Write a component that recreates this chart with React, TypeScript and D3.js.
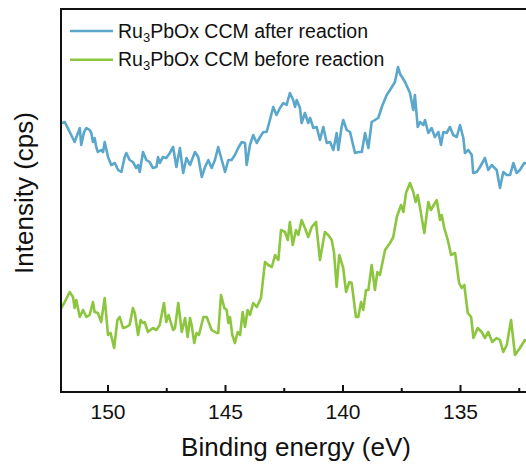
import React from "react";
import * as d3 from "d3";

// Binding energy (eV) and intensity (arbitrary cps units)
const afterEnergy = [151.96,151.84,151.63,151.42,151.28,151.2,151.14,151.02,150.92,150.78,150.71,150.64,150.57,150.5,150.43,150.29,150.21,150.14,150.0,149.86,149.71,149.57,149.43,149.29,149.22,149.08,148.94,148.8,148.72,148.65,148.51,148.37,148.23,148.09,147.94,147.87,147.8,147.66,147.52,147.37,147.23,147.09,146.94,146.8,146.66,146.51,146.3,146.16,146.01,145.87,145.73,145.59,145.45,145.31,145.16,145.02,144.88,144.74,144.6,144.46,144.31,144.17,144.1,143.96,143.82,143.67,143.53,143.39,143.25,143.11,142.97,142.83,142.68,142.54,142.4,142.26,142.12,142.04,141.97,141.83,141.76,141.62,141.48,141.4,141.26,141.12,140.98,140.84,140.69,140.55,140.41,140.27,140.2,140.06,139.99,139.84,139.7,139.49,139.35,139.2,139.06,138.92,138.78,138.64,138.5,138.35,138.14,138.0,137.79,137.66,137.57,137.36,137.15,137.01,136.94,136.82,136.72,136.58,136.51,136.37,136.23,136.09,135.94,135.83,135.73,135.59,135.45,135.31,135.16,135.02,134.88,134.81,134.67,134.52,134.46,134.31,134.17,133.96,133.82,133.67,133.46,133.32,133.18,133.03,132.89,132.75,132.61,132.47,132.29,132.0];
const afterIntensity = [269,270,260,250,259,264,247,260,264,262,259,250,254,245,240,242,240,250,235,227,229,222,220,235,239,232,230,224,227,220,240,232,230,224,225,235,229,235,234,239,245,225,244,219,234,227,240,235,215,225,232,224,232,245,232,220,232,232,237,244,250,249,227,247,257,249,255,260,260,272,285,277,284,289,287,299,292,285,292,284,269,279,269,274,264,265,252,265,249,250,242,259,242,265,272,262,260,239,240,240,259,244,270,272,274,285,297,302,310,325,318,310,299,282,297,265,270,267,272,259,264,255,260,247,260,259,265,257,255,267,254,239,242,237,219,220,225,234,222,227,222,204,220,217,217,229,219,222,229,228];

const beforeEnergy = [151.99,151.84,151.63,151.49,151.42,151.35,151.2,151.06,150.92,150.78,150.64,150.57,150.43,150.29,150.14,150.0,149.89,149.74,149.6,149.5,149.36,149.22,149.08,148.94,148.86,148.72,148.61,148.51,148.44,148.3,148.09,147.94,147.8,147.62,147.52,147.42,147.23,147.15,147.01,146.86,146.72,146.61,146.51,146.44,146.33,146.23,146.13,145.94,145.8,145.59,145.37,145.31,145.19,145.05,144.95,144.88,144.81,144.71,144.6,144.48,144.38,144.27,144.17,144.06,143.96,143.82,143.67,143.49,143.32,143.18,143.03,142.89,142.75,142.64,142.47,142.35,142.26,142.14,142.0,141.9,141.76,141.62,141.48,141.33,141.15,140.98,140.77,140.63,140.48,140.38,140.27,140.16,139.99,139.87,139.73,139.63,139.45,139.35,139.23,139.14,139.02,138.92,138.78,138.64,138.54,138.43,138.21,138.0,137.86,137.71,137.53,137.43,137.32,137.15,137.01,136.91,136.82,136.72,136.54,136.37,136.26,136.01,135.87,135.8,135.69,135.54,135.4,135.23,135.06,134.95,134.84,134.69,134.55,134.45,134.27,134.1,133.96,133.82,133.65,133.46,133.32,133.18,133.03,132.85,132.68,132.47,132.26,132.0];
const beforeIntensity = [84,90,100,95,84,92,75,82,75,77,90,80,79,70,94,57,59,44,72,75,64,65,67,84,79,57,72,69,70,60,64,62,67,89,70,77,62,64,89,60,74,55,74,67,49,59,57,75,75,62,59,59,97,84,82,69,75,57,49,60,57,80,65,82,77,89,85,94,130,127,125,137,132,162,160,152,170,147,162,157,172,164,155,165,170,132,160,157,152,139,105,137,124,100,110,109,75,75,90,82,102,102,127,102,120,117,142,149,155,175,187,180,199,209,200,190,197,184,159,190,182,192,172,177,164,152,137,139,109,104,107,79,75,54,64,60,54,60,50,54,52,40,47,72,37,44,52,50];

const xTicks = [150, 145, 140, 135];
const xMinorTicks = [147.5, 142.5, 137.5, 132.5];
const seriesLabels = ["after reaction", "before reaction"];
const seriesColors = ["#5ba7cc", "#8cc63f"];

const W = 526, H = 464;
const left = 61, right = 531, top = 9, bottom = 392;

export default function App() {
  const x = d3.scaleLinear().domain([152, 132]).range([left, right]);
  const y = d3.scaleLinear().domain([0, 383]).range([bottom, top]);
  const mk = (e: number[], v: number[]) =>
    d3.line<number>().x((_, i) => x(e[i])).y((d) => y(d))(v) || "";
  const paths = [mk(afterEnergy, afterIntensity), mk(beforeEnergy, beforeIntensity)];
  const font = "Liberation Sans, Arial, Helvetica, sans-serif";
  return (
    <svg width={W} height={H} style={{ position: "absolute", left: 0, top: 0, background: "#fff" }} fontFamily={font}>
      <defs>
        <clipPath id="plot"><rect x={left} y={top} width={right - left} height={bottom - top} /></clipPath>
      </defs>
      <g clipPath="url(#plot)" fill="none" strokeWidth={2.6} strokeLinejoin="round">
        {paths.map((p, i) => <path key={i} d={p} stroke={seriesColors[i]} />)}
      </g>
      <rect x={left} y={top} width={right - left} height={bottom - top} fill="none" stroke="#111" strokeWidth={2} />
      {xTicks.map((t) => (
        <g key={t}>
          <line x1={x(t)} x2={x(t)} y1={bottom} y2={bottom - 7} stroke="#111" strokeWidth={2} />
          <text x={x(t)} y={419} fontSize={21} textAnchor="middle" fill="#111">{t}</text>
        </g>
      ))}
      {xMinorTicks.map((t) => (
        <line key={t} x1={x(t)} x2={x(t)} y1={bottom} y2={bottom - 4} stroke="#111" strokeWidth={2} />
      ))}
      <text x={(left + right) / 2} y={456} fontSize={26} textAnchor="middle" fill="#111">Binding energy (eV)</text>
      <text transform="translate(33,193) rotate(-90)" fontSize={26} textAnchor="middle" fill="#111">Intensity (cps)</text>
      {seriesLabels.map((s, i) => (
        <g key={s} transform={`translate(0,${31 + i * 28.7})`}>
          <line x1={70} x2={113} y1={0} y2={0} stroke={seriesColors[i]} strokeWidth={2.6} />
          <text x={118} y={6.5} fontSize={19.5} fill="#111">
            Ru<tspan fontSize={13} dy={4}>3</tspan><tspan dy={-4}>PbOx CCM {s}</tspan>
          </text>
        </g>
      ))}
    </svg>
  );
}
